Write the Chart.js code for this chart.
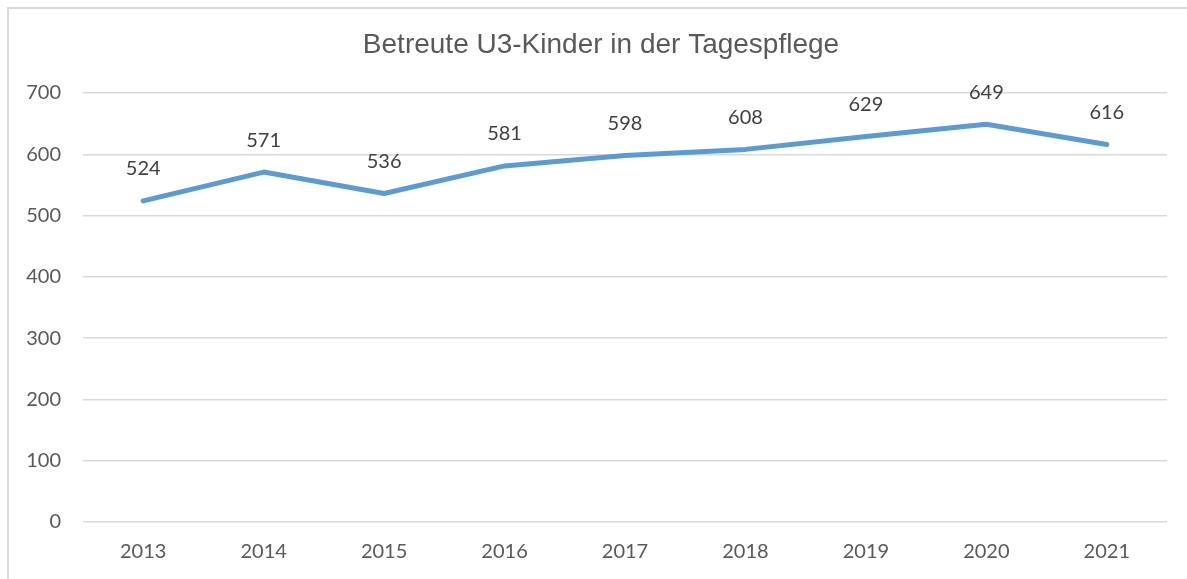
<!DOCTYPE html>
<html lang="de">
<head>
    <meta charset="UTF-8">
    <title>Betreute U3-Kinder in der Tagespflege</title>
    <script src="https://cdn.jsdelivr.net/npm/chart.js"></script>
    <style>
        html, body { margin: 0; padding: 0; background: #fff; }
        #frame {
            position: absolute; left: 7px; top: 7px; width: 1200px; height: 600px;
            border-top: 2px solid #d9d9d9; border-left: 2px solid #d9d9d9;
        }
        #wrap { position: absolute; left: 0; top: 0; width: 1187px; height: 579px; }
    </style>
</head>
<body>
    <div id="frame"></div>
    <div id="wrap"><canvas id="chart"></canvas></div>

    <script>
        // data
        const chartTitle = 'Betreute U3-Kinder in der Tagespflege';
        const years = ['2013', '2014', '2015', '2016', '2017', '2018', '2019', '2020', '2021'];
        const children = [524, 571, 536, 581, 598, 608, 629, 649, 616];
        const yTicks = [0, 100, 200, 300, 400, 500, 600, 700];

        const numFont = "Lato, 'Open Sans', sans-serif";

        // title + value labels
        const labelPlugin = {
            id: 'labels',
            afterDatasetsDraw(chart) {
                const ctx = chart.ctx;
                ctx.save();
                ctx.fillStyle = '#595959';
                ctx.font = "28px 'Liberation Sans', Arial, sans-serif";
                ctx.textAlign = 'center';
                ctx.textBaseline = 'middle';
                ctx.fillText(chartTitle, 601, 45);

                ctx.fillStyle = '#404040';
                ctx.font = '20px ' + numFont;
                const meta = chart.getDatasetMeta(0);
                meta.data.forEach((pt, i) => {
                    ctx.fillText(String(children[i]), pt.x, pt.y - 32);
                });
                ctx.restore();
            }
        };

        new Chart(document.getElementById('chart'), {
            type: 'line',
            data: {
                labels: years,
                datasets: [{
                    data: children,
                    borderColor: '#5b9bd5',
                    borderWidth: 5,
                    borderCapStyle: 'round',
                    borderJoinStyle: 'round',
                    pointRadius: 0,
                    tension: 0,
                    fill: false
                }]
            },
            options: {
                responsive: true,
                maintainAspectRatio: false,
                animation: false,
                layout: { padding: { top: 93, right: 20, left: 0, bottom: 0 } },
                plugins: {
                    legend: { display: false },
                    tooltip: { enabled: false }
                },
                scales: {
                    x: {
                        offset: true,
                        grid: { display: false, drawTicks: false },
                        border: { display: false },
                        ticks: { color: '#595959', font: { size: 20, family: numFont }, padding: 18, maxRotation: 0 },
                        afterFit(scale) { scale.height = 57; }
                    },
                    y: {
                        min: 0,
                        max: 700,
                        afterBuildTicks(scale) { scale.ticks = yTicks.map(v => ({ value: v })); },
                        grid: { color: '#d9d9d9', lineWidth: 1.5, drawTicks: false },
                        border: { display: false },
                        ticks: { color: '#595959', font: { size: 20, family: numFont }, padding: 22 },
                        afterFit(scale) { scale.width = 83; }
                    }
                }
            },
            plugins: [labelPlugin]
        });
    </script>
</body>
</html>
